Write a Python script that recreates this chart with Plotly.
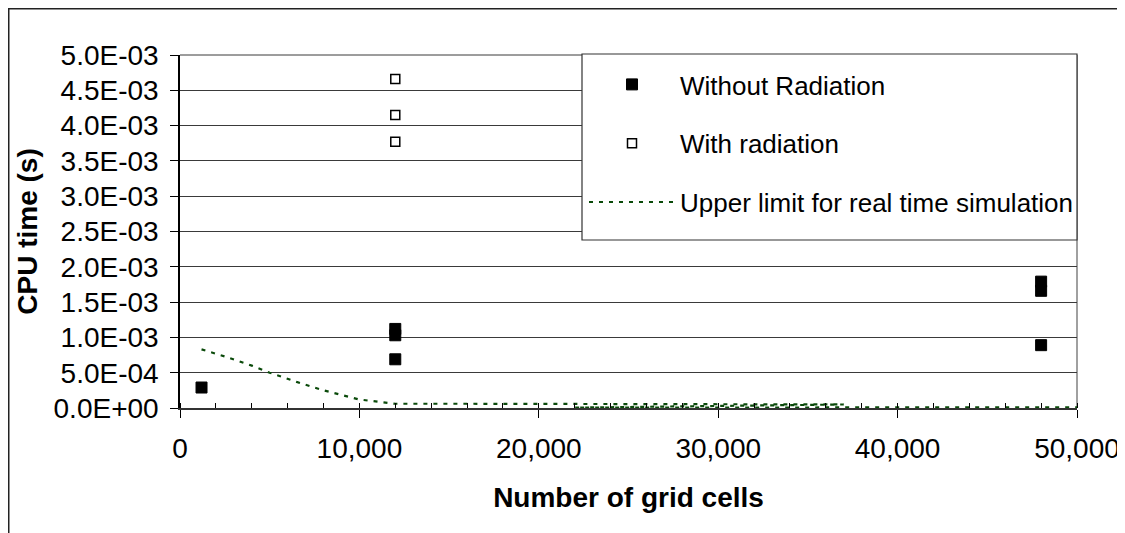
import plotly.graph_objects as go

# ---- data ----
cells_without = [1200, 12000, 12000, 12000, 48000, 48000, 48000]
cpu_without = [2.9e-4, 1.12e-3, 1.03e-3, 6.9e-4, 1.79e-3, 1.66e-3, 8.9e-4]

cells_with = [12000, 12000, 12000]
cpu_with = [4.66e-3, 4.15e-3, 3.77e-3]

cells_limit = [1200, 2500, 4000, 5000, 6500, 8000, 10000, 12000, 16000, 20000,
               25000, 30000, 37000, 22000, 26000, 30000, 37000, 40000, 44000, 48000, 50000]
cpu_limit = [8.3e-4, 7.3e-4, 6.0e-4, 5.0e-4, 3.7e-4, 2.5e-4, 1.2e-4, 6e-5, 6e-5, 6e-5,
             6e-5, 6e-5, 5e-5, 5e-6, 5e-6, 5e-6, 1.5e-5, 1.2e-5, 1e-5, 1e-5, 1e-5]

y_tickvals = [0, 5e-4, 1e-3, 1.5e-3, 2e-3, 2.5e-3, 3e-3, 3.5e-3, 4e-3, 4.5e-3, 5e-3]
y_ticktext = ["0.0E+00", "5.0E-04", "1.0E-03", "1.5E-03", "2.0E-03", "2.5E-03",
              "3.0E-03", "3.5E-03", "4.0E-03", "4.5E-03", "5.0E-03"]
x_tickvals = [0, 10000, 20000, 30000, 40000, 50000]
x_ticktext = ["0", "10,000", "20,000", "30,000", "40,000", "50,000"]

FONT = "Liberation Sans, Arial, sans-serif"

fig = go.Figure()
fig.add_trace(go.Scatter(
    x=cells_without, y=cpu_without, mode="markers", name="Without Radiation",
    legendgroup="a",
    marker=dict(symbol="square", size=11, color="black", line=dict(color="black", width=1)),
))
fig.add_trace(go.Scatter(
    x=cells_with, y=cpu_with, mode="markers", name="With radiation",
    legendgroup="b",
    marker=dict(symbol="square", size=9, color="white", line=dict(color="black", width=1.5)),
))
fig.add_trace(go.Scatter(
    x=cells_limit, y=cpu_limit, mode="lines", name="Upper limit for real time simulation",
    legendgroup="c",
    line=dict(color="#0a4a0a", width=2.2, dash="4px,6px"),
))

# page has an 8px body margin: screen pixel = figure pixel + 8
OFF = 8
W, H = 1117, 525
L, T = 180 - OFF, 55 - OFF
R = W - (1077 - OFF)
B = H - (408 - OFF)
pw, ph = W - L - R, H - T - B

def sx(px):  # screen x pixel -> paper
    return (px - OFF - L) / pw

def sy(py):  # screen y pixel -> paper
    return (H - B - (py - OFF)) / ph

fig.update_layout(
    width=W, height=H,
    margin=dict(l=L, r=R, t=T, b=B, autoexpand=False),
    paper_bgcolor="white", plot_bgcolor="white",
    font=dict(family=FONT, size=28, color="black"),
    showlegend=True,
    legend=dict(
        x=sx(584), y=sy(61), xanchor="left", yanchor="top",
        bgcolor="rgba(0,0,0,0)", borderwidth=0,
        font=dict(family=FONT, size=26, color="black"),
        itemwidth=86, tracegroupgap=22, traceorder="grouped",
    ),
    xaxis=dict(
        range=[0, 50000], tickvals=x_tickvals, ticktext=x_ticktext,
        showgrid=False, zeroline=False,
        showline=True, linecolor="#333333", linewidth=1.5, mirror=False,
        ticks="outside", ticklen=8, tickcolor="black", tickwidth=1,
        minor=dict(dtick=2000, tick0=0, ticks="inside", ticklen=5, tickcolor="black", tickwidth=1),
        ticklabelstandoff=7,
        tickfont=dict(size=28),
        title=dict(text="<b>Number of grid cells</b>", font=dict(size=28), standoff=24),
        automargin=False,
    ),
    yaxis=dict(
        range=[0, 5e-3], tickvals=y_tickvals, ticktext=y_ticktext,
        showgrid=True, gridcolor="#3a3a3a", gridwidth=1, zeroline=False,
        showline=True, linecolor="black", linewidth=1.5,
        ticks="outside", ticklen=8, tickcolor="black", tickwidth=1,
        ticklabelstandoff=6,
        tickfont=dict(size=28),
        title=dict(text="<b>CPU time (s)</b>", font=dict(size=28), standoff=8),
        automargin=False,
    ),
    shapes=[
        # top edge of plot area
        dict(type="line", xref="paper", yref="paper", x0=0, x1=1, y0=1, y1=1,
             line=dict(color="#3a3a3a", width=1)),
        # right edge of plot area (grey)
        dict(type="line", xref="paper", yref="paper", x0=1, x1=1, y0=0, y1=1,
             line=dict(color="#a0a0a0", width=2), layer="below"),
        # legend box
        dict(type="rect", xref="paper", yref="paper",
             x0=sx(582), x1=sx(1077), y0=sy(240), y1=sy(54),
             fillcolor="white", line=dict(color="#333333", width=1.2), layer="above"),
        # outer chart frame (extends past right / bottom edges)
        dict(type="rect", xref="paper", yref="paper",
             x0=sx(8.75), x1=sx(1300), y0=sy(700), y1=sy(8.75),
             line=dict(color="#222222", width=1.5), layer="below"),
    ],
)

fig.write_html("out.html")
